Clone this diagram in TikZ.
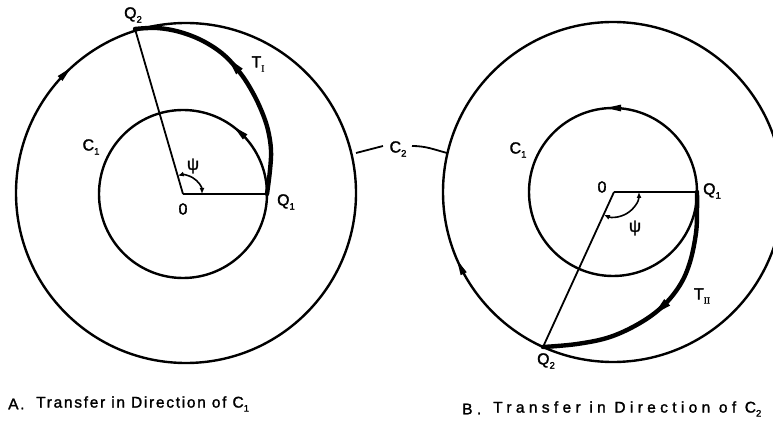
\documentclass[tikz,border=0pt]{standalone}
\usepackage{fontspec}
\setmainfont{Liberation Sans}[FakeBold=1.2]
\newfontfamily\lblfont{Liberation Sans}[FakeBold=1.8]
\newfontfamily\capAfont{Liberation Sans}[LetterSpace=11,FakeBold=1.6]
\newfontfamily\capBfont{Liberation Sans}[LetterSpace=28,FakeBold=1.6]
\newfontfamily\romfont{Liberation Serif}[FakeBold=1.5]
\usetikzlibrary{arrows.meta,decorations.markings}
\newcommand{\lsub}[1]{\raisebox{-0.5ex}{\fontsize{9.5}{9.5}\selectfont #1}}
\newcommand{\rsub}[1]{\raisebox{-0.5ex}{\fontsize{9.5}{9.5}\selectfont\romfont #1}}
\tikzset{
  circ/.style={line width=2.4pt},
  radline/.style={line width=1.8pt},
  traj/.style={line width=4.4pt, line cap=round},
  lbl/.style={font=\lblfont\fontsize{16}{16}\selectfont, inner sep=0pt},
  capA/.style={font=\capAfont\fontsize{15.5}{15.5}\selectfont, inner sep=0pt, anchor=west},
  capB/.style={font=\capBfont\fontsize{15.5}{15.5}\selectfont, inner sep=0pt, anchor=west},
  wedge/.style={postaction={decorate}, decoration={markings, mark=at position 0.5 with {\fill (7pt,0pt) -- (-8pt,-3.4pt) -- (-8pt,3.4pt) -- cycle;}}},
  bigwedge/.style={postaction={decorate}, decoration={markings, mark=at position #1 with {\fill (8pt,0pt) -- (-9pt,-4.4pt) -- (-9pt,4.4pt) -- cycle;}}},
  psiarc/.style={{Latex[length=6pt,width=5pt]}-{Latex[length=6pt,width=5pt]}, line width=1.6pt}
}
\begin{document}
\begin{tikzpicture}[x=1pt,y=-1pt]
\useasboundingbox (0,0) rectangle (773,430);
\clip (0,0) rectangle (773,430);
% ---------------- Diagram A ----------------
\coordinate (OA) at (183,194);
\coordinate (OCA) at (186,193);
\coordinate (Q1A) at (267,194);
\coordinate (Q2A) at (135,29);
\draw[circ] (OA) circle[radius=84];
\draw[circ] (OCA) circle[radius=170];
\draw[radline] (OA) -- (Q1A);
\draw[radline] (OA) -- (Q2A);
\draw[traj, bigwedge=0.56] plot[smooth, tension=0.6] coordinates {(267,194) (270,170) (271,150) (268,130) (262,112) (253,93) (241,74) (224,55) (203,41) (180,32) (157,28) (135,29)};
\draw[psiarc] (OA) ++(0:19) arc[start angle=0, end angle=-106, radius=19];
% direction marks (C1 counter-clockwise, C2 clockwise)
\path[wedge] (OCA) ++(-139:170) arc[start angle=-139, end angle=-131, radius=170];
\path[wedge] (OA) ++(-43:84) arc[start angle=-43, end angle=-53, radius=84];
% labels
\node[lbl] (lQ2A) at (133,15) {Q\lsub{2}};
\node[lbl] (lT1) at (258,64) {T\rsub{I}};
\node[lbl] (lC1A) at (91,147) {C\lsub{1}};
\node[lbl] (lOA) at (183,209) {0};
\node[lbl] (lQ1A) at (286,202) {Q\lsub{1}};
\node[lbl] (lpsiA) at (193,166) {\fontsize{17}{17}\selectfont ψ};
% ---------------- Diagram B ----------------
\coordinate (OB) at (614,192);
\coordinate (OCB) at (613,192);
\coordinate (Q1B) at (697,192);
\coordinate (Q2B) at (543,347);
\draw[circ] (OCB) circle[radius=84];
\draw[circ] (OCB) circle[radius=170];
\draw[radline] (OB) -- (Q1B);
\draw[radline] (OB) -- (Q2B);
\draw[traj, bigwedge=0.5] plot[smooth, tension=0.6] coordinates {(697,192) (697,210) (696,233) (690,262) (680,285) (663,306) (640,323) (610,337) (577,344) (543,347)};
\draw[psiarc] (OB) ++(0:25) arc[start angle=0, end angle=114, radius=25];
\path[wedge] (OCB) ++(-85:84) arc[start angle=-85, end angle=-95, radius=84];
\path[wedge] (OCB) ++(151:170) arc[start angle=151, end angle=157, radius=170];
\node[lbl] (lC1B) at (518,150) {C\lsub{1}};
\node[lbl] (lOB) at (602,187) {0};
\node[lbl] (lQ1B) at (712,191) {Q\lsub{1}};
\node[lbl] (lT2) at (702,296) {T\rsub{II}};
\node[lbl] (lQ2B) at (546,361) {Q\lsub{2}};
\node[lbl] (lpsiB) at (635,228) {\fontsize{17}{17}\selectfont ψ};
% ---------------- C2 label with leaders ----------------
\node[lbl] (lC2) at (398,149) {C\lsub{2}};
\coordinate (c2a) at (356,153);
\coordinate (c2b) at (447,153);
\coordinate (c2l) at (383,146);
\coordinate (c2r) at (412,146);
\draw[radline] (c2a) -- (c2l);
\draw[radline] (c2r) to[out=0, in=165] (c2b);
% ---------------- captions ----------------
\node[capA] (capAl) at (8,404) {A.};
\node[capA] (capA) at (36,404) {Transfer in Direction of C\lsub{1}};
\node[capB] (capBl) at (462,409) {B.};
\node[capB] (capB) at (493,409) {Transfer in Direction of C\lsub{2}};
\end{tikzpicture}
\end{document}
